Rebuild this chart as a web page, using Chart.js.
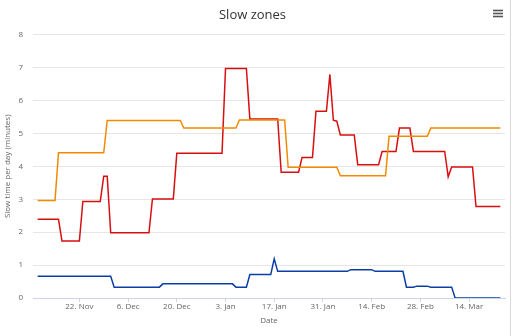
<!DOCTYPE html>
<html>
<head>
<meta charset="utf-8">
<script src="https://cdn.jsdelivr.net/npm/chart.js@4/dist/chart.umd.min.js"></script>
<style>
  html, body { margin: 0; padding: 0; background: #fff; }
  #wrap { position: relative; width: 512px; height: 336px; }
</style>
</head>
<body>
<div id="wrap"><canvas id="myChart" width="512" height="336"></canvas></div>
<script>
// breakpoints of each series (date, minutes); the line just joins them
var orangeDates = ['2021-11-10', '2021-11-15', '2021-11-16', '2021-11-29', '2021-11-30', '2021-12-21', '2021-12-22',
    '2022-01-06', '2022-01-07', '2022-01-20', '2022-01-21', '2022-02-04', '2022-02-05', '2022-02-18', '2022-02-19',
    '2022-03-02', '2022-03-03', '2022-03-23'];
var orangeValues = [2.96, 2.96, 4.41, 4.41, 5.39, 5.39, 5.16,
    5.16, 5.41, 5.41, 3.97, 3.97, 3.71, 3.71, 4.91,
    4.91, 5.16, 5.16];

var redDates = ['2021-11-10', '2021-11-16', '2021-11-17', '2021-11-22', '2021-11-23', '2021-11-28', '2021-11-29',
    '2021-11-30', '2021-12-01', '2021-12-12', '2021-12-13', '2021-12-19', '2021-12-20', '2022-01-02', '2022-01-03',
    '2022-01-09', '2022-01-10', '2022-01-18', '2022-01-19', '2022-01-24', '2022-01-25', '2022-01-28', '2022-01-29',
    '2022-02-01', '2022-02-02', '2022-02-03', '2022-02-04', '2022-02-05', '2022-02-09', '2022-02-10', '2022-02-16',
    '2022-02-17', '2022-02-21', '2022-02-22', '2022-02-25', '2022-02-26', '2022-03-07', '2022-03-08', '2022-03-09',
    '2022-03-15', '2022-03-16', '2022-03-23'];
var redValues = [2.39, 2.39, 1.73, 1.73, 2.93, 2.93, 3.70,
    3.70, 1.98, 1.98, 3.01, 3.01, 4.40, 4.40, 6.97,
    6.97, 5.44, 5.44, 3.82, 3.82, 4.27, 4.27, 5.67,
    5.67, 6.79, 5.40, 5.37, 4.95, 4.95, 4.05, 4.05,
    4.45, 4.45, 5.16, 5.16, 4.45, 4.45, 3.68, 3.98,
    3.98, 2.78, 2.78];

var blueDates = ['2021-11-10', '2021-12-01', '2021-12-02', '2021-12-15', '2021-12-16', '2022-01-05', '2022-01-06',
    '2022-01-09', '2022-01-10', '2022-01-16', '2022-01-17', '2022-01-18', '2022-02-07', '2022-02-08', '2022-02-14',
    '2022-02-15', '2022-02-23', '2022-02-24', '2022-02-26', '2022-02-27', '2022-03-02', '2022-03-03', '2022-03-09',
    '2022-03-10', '2022-03-23'];
var blueValues = [0.66, 0.66, 0.33, 0.33, 0.43, 0.43, 0.33,
    0.33, 0.71, 0.71, 1.19, 0.81, 0.81, 0.86, 0.86,
    0.81, 0.81, 0.33, 0.33, 0.36, 0.36, 0.33, 0.33,
    0, 0];

var tickDates = ['2021-11-22', '2021-12-06', '2021-12-20', '2022-01-03', '2022-01-17', '2022-01-31', '2022-02-14',
    '2022-02-28', '2022-03-14'];
var tickLabels = ['22. Nov', '6. Dec', '20. Dec', '3. Jan', '17. Jan', '31. Jan', '14. Feb', '28. Feb', '14. Mar'];

var FONT = "'Open Sans', 'DejaVu Sans', sans-serif";

function toDay(s) {
    var p = s.split('-');
    return Date.UTC(+p[0], +p[1] - 1, +p[2]) / 86400000;
}

function points(dates, values) {
    return dates.map(function(d, i) {
        return { x: toDay(d), y: values[i] };
    });
}

var firstDay = toDay(redDates[0]);
var lastDay = toDay(redDates[redDates.length - 1]);
var pad = (lastDay - firstDay) * 0.01;

// hamburger icon and the thin frame edge on the right
var extras = {
    id: 'extras',
    afterDraw: function(chart) {
        var c = chart.ctx;
        c.save();
        c.strokeStyle = '#555';
        c.lineWidth = 1.6;
        [10.5, 13.5, 16.5].forEach(function(y) {
            c.beginPath();
            c.moveTo(493, y);
            c.lineTo(503, y);
            c.stroke();
        });
        c.strokeStyle = '#d8d8d8';
        c.lineWidth = 1;
        c.beginPath();
        c.moveTo(510.5, 0);
        c.lineTo(510.5, 336);
        c.stroke();
        c.restore();
    }
};

var context = document.getElementById('myChart').getContext('2d');
var myChart = new Chart(context, {
    type: 'line',
    data: {
        datasets: [{
            label: 'Orange',
            data: points(orangeDates, orangeValues),
            borderColor: '#f28a00'
        }, {
            label: 'Red',
            data: points(redDates, redValues),
            borderColor: '#d80f0f'
        }, {
            label: 'Blue',
            data: points(blueDates, blueValues),
            borderColor: '#0a3ea6'
        }]
    },
    options: {
        responsive: false,
        animation: false,
        elements: {
            line: { borderWidth: 1.5, tension: 0 },
            point: { radius: 0 }
        },
        layout: { padding: { top: 2, right: 7, left: 0, bottom: 0 } },
        plugins: {
            legend: { display: false },
            tooltip: { enabled: false },
            title: {
                display: true,
                text: 'Slow zones',
                color: '#333',
                font: { family: FONT, size: 13, weight: 'normal' },
                padding: { top: 5, bottom: 12 }
            }
        },
        scales: {
            x: {
                type: 'linear',
                min: firstDay - pad,
                max: lastDay + pad,
                afterBuildTicks: function(scale) {
                    scale.ticks = tickDates.map(function(d) { return { value: toDay(d) }; });
                },
                afterFit: function(scale) { scale.height = 38; },
                ticks: {
                    autoSkip: false,
                    maxRotation: 0,
                    padding: 0,
                    color: '#666',
                    font: { family: FONT, size: 8 },
                    callback: function(value) {
                        var i = tickDates.map(toDay).indexOf(value);
                        return i >= 0 ? tickLabels[i] : '';
                    }
                },
                grid: { drawOnChartArea: false, tickLength: 4, color: '#ccd6eb' },
                border: { color: '#ccd6eb' },
                title: {
                    display: true,
                    text: 'Date',
                    color: '#666',
                    font: { family: FONT, size: 8 },
                    padding: { top: 4, bottom: 10 }
                }
            },
            y: {
                min: 0,
                max: 8,
                afterFit: function(scale) { scale.width = 33; },
                ticks: {
                    stepSize: 1,
                    padding: 10,
                    color: '#666',
                    font: { family: FONT, size: 8 }
                },
                grid: { color: '#e6e6e6', drawTicks: false },
                border: { display: false },
                title: {
                    display: true,
                    text: 'Slow time per day (minutes)',
                    color: '#666',
                    font: { family: FONT, size: 8 },
                    padding: { top: 3, bottom: 0 }
                }
            }
        }
    },
    plugins: [extras]
});
</script>
</body>
</html>
